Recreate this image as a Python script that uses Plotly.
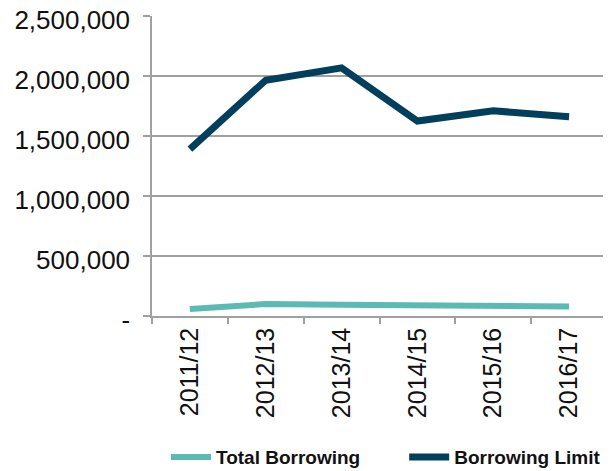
import plotly.graph_objects as go

categories = ["2011/12", "2012/13", "2013/14", "2014/15", "2015/16", "2016/17"]
total_borrowing = [58000, 100000, 93000, 88000, 83000, 79000]
borrowing_limit = [1390000, 1965000, 2068000, 1625000, 1710000, 1660000]
y_tickvals = [0, 500000, 1000000, 1500000, 2000000, 2500000]
y_ticktext = ["-", "500,000", "1,000,000", "1,500,000", "2,000,000", "2,500,000"]

fig = go.Figure()
fig.add_trace(go.Scatter(x=categories, y=total_borrowing, mode="lines", name="Total Borrowing",
                         line=dict(color="#5BBAB4", width=6), legend="legend"))
fig.add_trace(go.Scatter(x=categories, y=borrowing_limit, mode="lines", name="Borrowing Limit",
                         line=dict(color="#023F5D", width=7), legend="legend2"))

legend_font = dict(size=19, family="Liberation Sans, Arial", weight="bold", color="#111111")

# page body has an 8px default margin, so the figure is sized/offset to compensate
fig.update_layout(
    width=603, height=463,
    margin=dict(l=144, r=4, t=8, b=155, autoexpand=False),
    plot_bgcolor="white", paper_bgcolor="white",
    font=dict(family="Liberation Sans, Arial", color="#111111"),
    showlegend=True,
    legend=dict(orientation="h", xref="container", yref="container",
                x=0.262, xanchor="left", y=0.03, yanchor="middle",
                font=legend_font, itemwidth=40),
    legend2=dict(orientation="h", xref="container", yref="container",
                 x=0.657, xanchor="left", y=0.03, yanchor="middle",
                 font=legend_font, itemwidth=40),
)
fig.update_xaxes(
    type="category", range=[-0.5, 5.5], tickson="boundaries",
    ticks="outside", ticklen=6, tickcolor="#A0A0A0", tickwidth=1.5,
    showline=True, linecolor="#A0A0A0", linewidth=1.5,
    showgrid=False, tickangle=-90, tickfont=dict(size=25),
)
fig.update_yaxes(
    range=[0, 2500000], tickvals=y_tickvals, ticktext=y_ticktext,
    ticks="outside", ticklen=7, tickcolor="#A0A0A0", tickwidth=1.5,
    showline=True, linecolor="#A0A0A0", linewidth=1.5,
    showgrid=True, gridcolor="#A0A0A0", gridwidth=1.5,
    zeroline=False, tickfont=dict(size=26), ticklabelstandoff=8,
    ticklabelshift=4, ticklabeloverflow="allow",
)
fig.write_html("out.html")
